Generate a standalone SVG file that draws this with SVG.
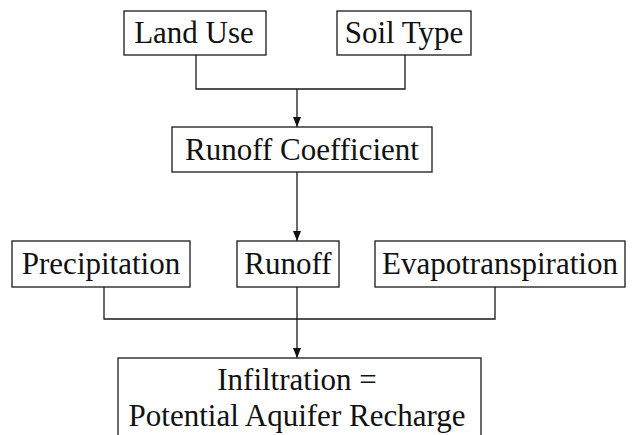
<svg xmlns="http://www.w3.org/2000/svg" width="634" height="435" viewBox="0 0 634 435">
  <style>
    .box { fill: #ffffff; stroke: #1a1a1a; stroke-width: 1.3; }
    .lbl { font-family: 'Liberation Serif', 'Times New Roman', Times, serif; font-size: 31px; fill: #111111; text-anchor: middle; }
    .wire { fill: none; stroke: #1a1a1a; stroke-width: 1.3; }
  </style>
  <defs>
    <!-- narrow filled arrowhead; tip sits on the path end -->
    <marker id="arrow" markerWidth="12" markerHeight="10" refX="10" refY="4" orient="auto" markerUnits="userSpaceOnUse">
      <path d="M0,0 L10,4 L0,8 Z" fill="#111111"/>
    </marker>
  </defs>
  <rect width="634" height="435" fill="#ffffff"/>

  <g id="connectors">
    <path class="wire" d="M196,55 V89 H405 V55"/>
    <path class="wire" d="M297,89 V127" marker-end="url(#arrow)"/>
    <path class="wire" d="M297,172 V241" marker-end="url(#arrow)"/>
    <path class="wire" d="M104,287 V319 H495 V287"/>
    <path class="wire" d="M297,287 V358" marker-end="url(#arrow)"/>
  </g>

  <g id="land-use">
    <rect class="box" x="124" y="11" width="142" height="44"/>
    <text class="lbl" x="194" y="43">Land Use</text>
  </g>
  <g id="soil-type">
    <rect class="box" x="337" y="11" width="134" height="44"/>
    <text class="lbl" x="404" y="43">Soil Type</text>
  </g>
  <g id="runoff-coefficient">
    <rect class="box" x="172" y="127" width="260" height="45"/>
    <text class="lbl" x="302" y="160">Runoff Coefficient</text>
  </g>
  <g id="precipitation">
    <rect class="box" x="12" y="241" width="178" height="46"/>
    <text class="lbl" x="101" y="274">Precipitation</text>
  </g>
  <g id="runoff">
    <rect class="box" x="237" y="241" width="102" height="46"/>
    <text class="lbl" x="288" y="274">Runoff</text>
  </g>
  <g id="evapotranspiration">
    <rect class="box" x="375" y="241" width="250" height="46"/>
    <text class="lbl" x="500" y="274">Evapotranspiration</text>
  </g>
  <g id="infiltration">
    <rect class="box" x="118" y="358" width="363" height="90"/>
    <text class="lbl" x="297" y="390">Infiltration =</text>
    <text class="lbl" x="297" y="426">Potential Aquifer Recharge</text>
  </g>
</svg>
